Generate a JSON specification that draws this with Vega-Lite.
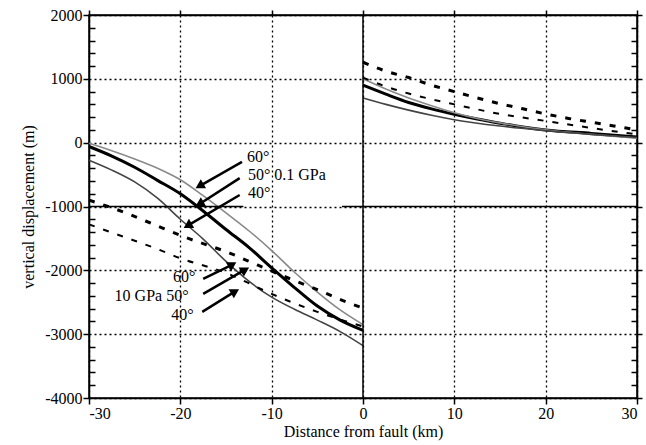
{
  "$schema": "https://vega.github.io/schema/vega-lite/v6.json",
  "autosize": {"type": "none"},
  "padding": {"left": 89, "top": 15, "right": 9, "bottom": 47},
  "width": 548,
  "height": 383,
  "background": "white",
  "config": {
    "font": "Liberation Serif",
    "view": {"stroke": "black", "strokeWidth": 1.5},
    "axis": {"labelFont": "Liberation Serif", "titleFont": "Liberation Serif", "labelColor": "black", "titleColor": "black", "domainColor": "black", "tickColor": "black", "labelFontSize": 16, "titleFontSize": 16, "titleFontWeight": "normal", "domainWidth": 1.5, "tickWidth": 1.5}
  },
  "datasets": {
    "curves": [
      {"series": "p50", "side": "L", "x": -30, "y": -60}, {"series": "p50", "side": "L", "x": -27.5, "y": -210}, {"series": "p50", "side": "L", "x": -25, "y": -385}, {"series": "p50", "side": "L", "x": -22.5, "y": -590}, {"series": "p50", "side": "L", "x": -20, "y": -800}, {"series": "p50", "side": "L", "x": -17.5, "y": -1070}, {"series": "p50", "side": "L", "x": -15, "y": -1360}, {"series": "p50", "side": "L", "x": -12.5, "y": -1640}, {"series": "p50", "side": "L", "x": -10, "y": -1960}, {"series": "p50", "side": "L", "x": -7.5, "y": -2270}, {"series": "p50", "side": "L", "x": -5, "y": -2560}, {"series": "p50", "side": "L", "x": -2.5, "y": -2780}, {"series": "p50", "side": "L", "x": 0, "y": -2940},
      {"series": "p50", "side": "R", "x": 0, "y": 900}, {"series": "p50", "side": "R", "x": 2.5, "y": 760}, {"series": "p50", "side": "R", "x": 5, "y": 630}, {"series": "p50", "side": "R", "x": 7.5, "y": 530}, {"series": "p50", "side": "R", "x": 10, "y": 445}, {"series": "p50", "side": "R", "x": 12.5, "y": 370}, {"series": "p50", "side": "R", "x": 15, "y": 305}, {"series": "p50", "side": "R", "x": 17.5, "y": 245}, {"series": "p50", "side": "R", "x": 20, "y": 200}, {"series": "p50", "side": "R", "x": 25, "y": 145}, {"series": "p50", "side": "R", "x": 30, "y": 90},
      {"series": "p60", "side": "L", "x": -30, "y": -10}, {"series": "p60", "side": "L", "x": -27.5, "y": -125}, {"series": "p60", "side": "L", "x": -25, "y": -255}, {"series": "p60", "side": "L", "x": -22.5, "y": -400}, {"series": "p60", "side": "L", "x": -20, "y": -580}, {"series": "p60", "side": "L", "x": -17.5, "y": -830}, {"series": "p60", "side": "L", "x": -15, "y": -1100}, {"series": "p60", "side": "L", "x": -12.5, "y": -1380}, {"series": "p60", "side": "L", "x": -10, "y": -1690}, {"series": "p60", "side": "L", "x": -7.5, "y": -2030}, {"series": "p60", "side": "L", "x": -5, "y": -2340}, {"series": "p60", "side": "L", "x": -2.5, "y": -2620}, {"series": "p60", "side": "L", "x": 0, "y": -2850},
      {"series": "p60", "side": "R", "x": 0, "y": 1000}, {"series": "p60", "side": "R", "x": 2.5, "y": 840}, {"series": "p60", "side": "R", "x": 5, "y": 700}, {"series": "p60", "side": "R", "x": 7.5, "y": 580}, {"series": "p60", "side": "R", "x": 10, "y": 470}, {"series": "p60", "side": "R", "x": 12.5, "y": 380}, {"series": "p60", "side": "R", "x": 15, "y": 310}, {"series": "p60", "side": "R", "x": 20, "y": 200}, {"series": "p60", "side": "R", "x": 25, "y": 130}, {"series": "p60", "side": "R", "x": 30, "y": 70},
      {"series": "p40", "side": "L", "x": -30, "y": -275}, {"series": "p40", "side": "L", "x": -27.5, "y": -430}, {"series": "p40", "side": "L", "x": -25, "y": -615}, {"series": "p40", "side": "L", "x": -22.5, "y": -870}, {"series": "p40", "side": "L", "x": -20, "y": -1200}, {"series": "p40", "side": "L", "x": -17.5, "y": -1510}, {"series": "p40", "side": "L", "x": -15, "y": -1860}, {"series": "p40", "side": "L", "x": -12.5, "y": -2170}, {"series": "p40", "side": "L", "x": -10, "y": -2420}, {"series": "p40", "side": "L", "x": -7.5, "y": -2610}, {"series": "p40", "side": "L", "x": -5, "y": -2780}, {"series": "p40", "side": "L", "x": -2.5, "y": -2960}, {"series": "p40", "side": "L", "x": 0, "y": -3180},
      {"series": "p40", "side": "R", "x": 0, "y": 700}, {"series": "p40", "side": "R", "x": 2.5, "y": 600}, {"series": "p40", "side": "R", "x": 5, "y": 510}, {"series": "p40", "side": "R", "x": 7.5, "y": 430}, {"series": "p40", "side": "R", "x": 10, "y": 360}, {"series": "p40", "side": "R", "x": 15, "y": 260}, {"series": "p40", "side": "R", "x": 20, "y": 190}, {"series": "p40", "side": "R", "x": 25, "y": 130}, {"series": "p40", "side": "R", "x": 30, "y": 80},
      {"series": "ga", "side": "L", "x": -30, "y": -900}, {"series": "ga", "side": "L", "x": -25.8, "y": -1110}, {"series": "ga", "side": "L", "x": -22.6, "y": -1300}, {"series": "ga", "side": "L", "x": -19.5, "y": -1480}, {"series": "ga", "side": "L", "x": -14.6, "y": -1730}, {"series": "ga", "side": "L", "x": -11.5, "y": -1920}, {"series": "ga", "side": "L", "x": -8.2, "y": -2120}, {"series": "ga", "side": "L", "x": -4.9, "y": -2310}, {"series": "ga", "side": "L", "x": -1.75, "y": -2500}, {"series": "ga", "side": "L", "x": 0, "y": -2590},
      {"series": "ga", "side": "R", "x": 0, "y": 1260}, {"series": "ga", "side": "R", "x": 2.5, "y": 1120}, {"series": "ga", "side": "R", "x": 5, "y": 1020}, {"series": "ga", "side": "R", "x": 7.5, "y": 900}, {"series": "ga", "side": "R", "x": 10, "y": 800}, {"series": "ga", "side": "R", "x": 12.5, "y": 700}, {"series": "ga", "side": "R", "x": 15, "y": 610}, {"series": "ga", "side": "R", "x": 17.5, "y": 530}, {"series": "ga", "side": "R", "x": 20, "y": 450}, {"series": "ga", "side": "R", "x": 22.5, "y": 380}, {"series": "ga", "side": "R", "x": 25, "y": 320}, {"series": "ga", "side": "R", "x": 27.5, "y": 260}, {"series": "ga", "side": "R", "x": 30, "y": 200},
      {"series": "gb", "side": "L", "x": -30, "y": -1280}, {"series": "gb", "side": "L", "x": -26.3, "y": -1470}, {"series": "gb", "side": "L", "x": -23, "y": -1640}, {"series": "gb", "side": "L", "x": -20, "y": -1810}, {"series": "gb", "side": "L", "x": -15, "y": -2040}, {"series": "gb", "side": "L", "x": -10, "y": -2370}, {"series": "gb", "side": "L", "x": -5, "y": -2650}, {"series": "gb", "side": "L", "x": 0, "y": -2880},
      {"series": "gb", "side": "R", "x": 0, "y": 1020}, {"series": "gb", "side": "R", "x": 2.5, "y": 880}, {"series": "gb", "side": "R", "x": 5, "y": 770}, {"series": "gb", "side": "R", "x": 7.5, "y": 680}, {"series": "gb", "side": "R", "x": 10, "y": 600}, {"series": "gb", "side": "R", "x": 15, "y": 450}, {"series": "gb", "side": "R", "x": 20, "y": 340}, {"series": "gb", "side": "R", "x": 25, "y": 230}, {"series": "gb", "side": "R", "x": 30, "y": 130}
    ],
    "hlines": [
      {"x": -30, "x2": -13.1, "y": -1000},
      {"x": -2.3, "x2": 30, "y": -1000}
    ],
    "vline": [
      {"x": 0, "y": -4000, "y2": 2000}
    ],
    "labels": [
      {"x": -12.7, "y": -230, "text": "60°"},
      {"x": -12.6, "y": -510, "text": "50° 0.1 GPa"},
      {"x": -12.6, "y": -785, "text": "40°"},
      {"x": -20.8, "y": -2110, "text": "60°"},
      {"x": -27.2, "y": -2400, "text": "10 GPa 50°"},
      {"x": -21.0, "y": -2700, "text": "40°"}
    ],
    "arrows": [
      {"grp": "up", "x": -13.25, "y": -302, "x2": -17.9, "y2": -680},
      {"grp": "up", "x": -13.5, "y": -555, "x2": -17.9, "y2": -960},
      {"grp": "up", "x": -13.5, "y": -820, "x2": -19.2, "y2": -1300},
      {"grp": "low", "x": -17.5, "y": -2135, "x2": -14.3, "y2": -1910},
      {"grp": "low", "x": -17.5, "y": -2370, "x2": -12.9, "y2": -1990},
      {"grp": "low", "x": -17.6, "y": -2650, "x2": -14.0, "y2": -2330}
    ]
  },
  "resolve": {"axis": {"x": "independent", "y": "independent"}},
  "layer": [
    {
      "data": {"name": "curves"},
      "transform": [{"filter": "datum.series === 'p50'"}],
      "mark": {"type": "line", "color": "black", "strokeWidth": 3, "interpolate": "monotone"},
      "encoding": {
        "x": {"field": "x", "type": "quantitative", "scale": {"domain": [-30, 30], "nice": false, "zero": false},
          "axis": {"orient": "bottom", "title": "Distance from fault (km)", "values": [-30, -20, -10, 0, 10, 20, 30], "labelExpr": "toString(datum.value)", "tickSize": 6, "labelPadding": 1, "titlePadding": 2, "grid": true, "gridColor": "black", "gridDash": [2, 3], "gridWidth": 1.3}},
        "y": {"field": "y", "type": "quantitative", "scale": {"domain": [-4000, 2000], "nice": false, "zero": false},
          "axis": {"orient": "left", "title": "vertical displacement (m)", "values": [-4000, -3000, -2000, -1000, 0, 1000, 2000], "labelExpr": "toString(datum.value)",
            "tickSize": 6, "labelPadding": 1, "titlePadding": 8, "grid": true, "gridColor": "black", "gridDash": [2, 3], "gridWidth": 1.3}},
        "detail": {"field": "side"}
      }
    },
    {
      "data": {"name": "curves"},
      "transform": [{"filter": "datum.series === 'p60'"}],
      "mark": {"type": "line", "color": "#8a8a8a", "strokeWidth": 1.6, "interpolate": "monotone"},
      "encoding": {
        "x": {"field": "x", "type": "quantitative", "axis": {"orient": "top", "title": null, "labels": false, "values": [-30, -20, -10, 0, 10, 20, 30], "tickSize": 5, "grid": false}},
        "y": {"field": "y", "type": "quantitative", "axis": {"orient": "right", "title": null, "labels": false, "grid": false, "values": [-4000, -3000, -2000, -1000, 0, 1000, 2000], "tickSize": 5}},
        "detail": {"field": "side"}
      }
    },
    {
      "data": {"name": "curves"},
      "transform": [{"filter": "datum.series === 'p40'"}],
      "mark": {"type": "line", "color": "#444444", "strokeWidth": 1.6, "interpolate": "monotone"},
      "encoding": {
        "x": {"field": "x", "type": "quantitative", "axis": null},
        "y": {"field": "y", "type": "quantitative", "axis": {"orient": "left", "offset": -6, "domain": false, "title": null, "labels": false, "grid": false, "tickSize": 6, "values": [-3800, -3600, -3400, -3200, -2800, -2600, -2400, -2200, -1800, -1600, -1400, -1200, -800, -600, -400, -200, 200, 400, 600, 800, 1200, 1400, 1600, 1800]}},
        "detail": {"field": "side"}
      }
    },
    {
      "data": {"name": "curves"},
      "transform": [{"filter": "datum.series === 'ga'"}],
      "mark": {"type": "line", "color": "black", "strokeWidth": 3, "strokeDash": [6, 9], "interpolate": "monotone"},
      "encoding": {
        "x": {"field": "x", "type": "quantitative", "axis": null},
        "y": {"field": "y", "type": "quantitative", "axis": {"orient": "right", "offset": -6, "domain": false, "title": null, "labels": false, "grid": false, "tickSize": 6, "values": [-3800, -3600, -3400, -3200, -2800, -2600, -2400, -2200, -1800, -1600, -1400, -1200, -800, -600, -400, -200, 200, 400, 600, 800, 1200, 1400, 1600, 1800]}},
        "detail": {"field": "side"}
      }
    },
    {
      "data": {"name": "curves"},
      "transform": [{"filter": "datum.series === 'gb'"}],
      "mark": {"type": "line", "color": "black", "strokeWidth": 2, "strokeDash": [6, 9], "interpolate": "monotone"},
      "encoding": {
        "x": {"field": "x", "type": "quantitative", "axis": null},
        "y": {"field": "y", "type": "quantitative", "axis": null},
        "detail": {"field": "side"}
      }
    },
    {
      "data": {"name": "hlines"},
      "mark": {"type": "rule", "color": "black", "strokeWidth": 1.5},
      "encoding": {
        "x": {"field": "x", "type": "quantitative", "axis": null},
        "x2": {"field": "x2"},
        "y": {"field": "y", "type": "quantitative", "axis": null}
      }
    },
    {
      "data": {"name": "vline"},
      "mark": {"type": "rule", "color": "black", "strokeWidth": 1.5},
      "encoding": {
        "x": {"field": "x", "type": "quantitative", "axis": null},
        "y": {"field": "y", "type": "quantitative", "axis": null},
        "y2": {"field": "y2"}
      }
    },
    {
      "data": {"name": "arrows"},
      "mark": {"type": "rule", "color": "black", "strokeWidth": 2.5},
      "encoding": {
        "x": {"field": "x", "type": "quantitative", "axis": null},
        "y": {"field": "y", "type": "quantitative", "axis": null},
        "x2": {"field": "x2"},
        "y2": {"field": "y2"}
      }
    },
    {
      "data": {"name": "arrows"},
      "transform": [{"filter": "datum.grp === 'up'"}],
      "mark": {"type": "point", "shape": "triangle-up", "filled": true, "color": "black", "opacity": 1, "size": 110, "angle": 240},
      "encoding": {
        "x": {"field": "x2", "type": "quantitative", "axis": null},
        "y": {"field": "y2", "type": "quantitative", "axis": null}
      }
    },
    {
      "data": {"name": "arrows"},
      "transform": [{"filter": "datum.grp === 'low'"}],
      "mark": {"type": "point", "shape": "triangle-up", "filled": true, "color": "black", "opacity": 1, "size": 110, "angle": 60},
      "encoding": {
        "x": {"field": "x2", "type": "quantitative", "axis": null},
        "y": {"field": "y2", "type": "quantitative", "axis": null}
      }
    },
    {
      "data": {"name": "labels"},
      "mark": {"type": "text", "align": "left", "baseline": "middle", "font": "Liberation Serif", "fontSize": 16, "color": "black"},
      "encoding": {
        "x": {"field": "x", "type": "quantitative", "axis": null},
        "y": {"field": "y", "type": "quantitative", "axis": null},
        "text": {"field": "text"}
      }
    }
  ]
}
